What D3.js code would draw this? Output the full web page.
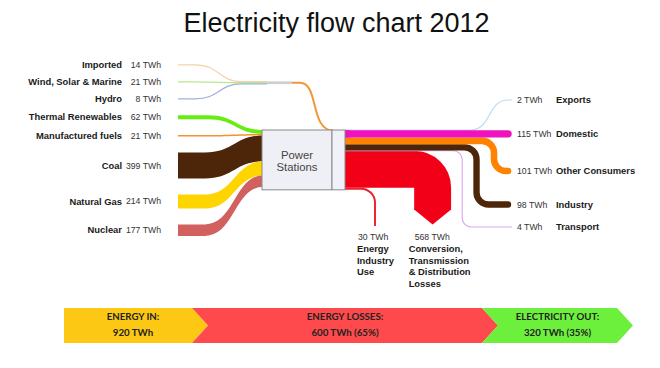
<!DOCTYPE html>
<html><head><meta charset="utf-8">
<script src="https://cdn.jsdelivr.net/npm/d3@7"></script>
<style>body{margin:0;background:#fff;} svg{display:block;}</style>
</head><body>
<svg id="c" width="660" height="368"></svg>
<script>
// ---------------- data ----------------
const title = "Electricity flow chart 2012";
const unit = "TWh";
const totalIn = 920;
const inNames  = ["Imported","Wind, Solar & Marine","Hydro","Thermal Renewables","Manufactured fuels","Coal","Natural Gas","Nuclear"];
const inValues = [14, 21, 8, 62, 21, 399, 214, 177];
const inBypass = [true, true, true, false, false, false, false, false];
const inColors = ["#f3d3a8","#b6ea8e","#a2ade6","#66ee11","#f5922e","#4d2609","#ffd500","#d2605e"];
const outNames  = ["Exports","Domestic","Other Consumers","Industry","Transport"];
const outValues = [2, 115, 101, 98, 4];
const outColors = ["#b9dcf0","#f012bc","#ff8200","#4d2609","#dcaaea"];
const lossNames  = [["Energy","Industry","Use"],["Conversion,","Transmission","& Distribution","Losses"]];
const lossValues = [30, 568];
const lossColors = ["#f0202a","#f20018"];
const boxLabel = ["Power","Stations"];
const summaryNames  = ["ENERGY IN:","ENERGY LOSSES:","ELECTRICITY OUT:"];
const summaryValues = ["920 TWh","600 TWh (65%)","320 TWh (35%)"];
const summaryColors = ["#fdc814","#fe4a4c","#6cf03c"];

// ---------------- layout ----------------
const svg = d3.select("#c");
const FONT = "'Liberation Sans', Arial, sans-serif";
const W = d3.scaleLinear().domain([0, totalIn]).range([0, 59.8]);
const xL0 = 178, xBend = 205, xBox0 = 262, xBox1 = 332, xBox2 = 345;
const boxTop = 130, boxBot = boxTop + W(totalIn);
const gapL = 16;
const outRowY = [100, 134, 171, 204.5, 227];
const xEnd = 508, labelValX = 517, labelNameX = 556;
const lossEndY = 210;

// title
svg.append("text").attr("x", 336.5).attr("y", 32).attr("text-anchor", "middle")
  .attr("font-family", FONT).attr("font-size", 27).attr("fill", "#111").text(title);

// ---- left stacking ----
let yc = 64.8 - W(inValues[0]) / 2;
const inRows = inValues.map(v => { const w = W(v); const r = { top: yc, w, c: yc + w / 2 }; yc += w + gapL; return r; });
let sb = boxTop;
inRows.forEach((r, i) => { if (!inBypass[i]) { r.rTop = sb; sb += r.w; } });

function band(x0, x1, x2, yt0, yt1, w) {
  const p = d3.path(); const xm = (x1 + x2) / 2;
  p.moveTo(x0, yt0); p.lineTo(x1, yt0);
  p.bezierCurveTo(xm, yt0, xm, yt1, x2, yt1);
  p.lineTo(x2, yt1 + w);
  p.bezierCurveTo(xm, yt1 + w, xm, yt0 + w, x1, yt0 + w);
  p.lineTo(x0, yt0 + w); p.closePath();
  return p.toString();
}

const gLeft = svg.append("g");
// bypass (direct electricity) thin lines
const byIdx = inValues.map((v, i) => i).filter(i => inBypass[i]);
const bySum = d3.sum(byIdx, i => inValues[i]);
const mergeC = inRows[1].c + 0.8;
const mergeW = W(bySum);
let mt = mergeC - byIdx.length * 1.1 / 2;
const xMerge0 = 242, xMerge1 = 267, xGray1 = 292;
byIdx.forEach(i => {
  const r = inRows[i]; const my = mt + 0.55; mt += 1.1;
  const p = d3.path(); p.moveTo(xL0, r.c); p.lineTo(195, r.c);
  p.bezierCurveTo(220, r.c, 218, my, xMerge0, my); p.lineTo(xMerge1, my);
  gLeft.append("path").attr("d", p.toString()).attr("fill", "none")
    .attr("stroke", inColors[i]).attr("stroke-width", Math.max(r.w, 1.3));
});
gLeft.append("line").attr("x1", xMerge1).attr("x2", xGray1).attr("y1", mergeC).attr("y2", mergeC)
  .attr("stroke", "#cfcfcf").attr("stroke-width", mergeW);
{
  const p = d3.path(); p.moveTo(xGray1, mergeC); p.lineTo(300, mergeC);
  p.bezierCurveTo(319, mergeC, 310, boxTop + 0.5, xBox1 + 1, boxTop + 0.5);
  gLeft.append("path").attr("d", p.toString()).attr("fill", "none")
    .attr("stroke", "#f39636").attr("stroke-width", 2);
}
// power station inputs
inRows.forEach((r, i) => {
  if (inBypass[i]) return;
  const w = Math.max(r.w, 1.5);
  const top = r.c - w / 2;
  gLeft.append("path").attr("d", band(xL0, i === 3 ? 208 : xBend, xBox0 + 2, top, r.rTop, w))
    .attr("fill", inColors[i]);
});

// left labels
inRows.forEach((r, i) => {
  svg.append("text").attr("x", 122).attr("y", r.c).attr("dy", "0.35em").attr("text-anchor", "end")
    .attr("font-family", FONT).attr("font-size", 9.4).attr("font-weight", "bold").attr("fill", "#1a1a1a")
    .text(inNames[i]);
  svg.append("text").attr("x", 161).attr("y", r.c).attr("dy", "0.35em").attr("text-anchor", "end")
    .attr("font-family", FONT).attr("font-size", 8.7).attr("fill", "#333")
    .text(inValues[i] + " " + unit);
});

// ---- right stacking ----
let sr = boxTop;
const outRows = outValues.map(v => { const w = W(v); const r = { top: sr, w, c: sr + w / 2 }; sr += w; return r; });
const lossRows = [];
[1, 0].forEach(i => { const w = W(lossValues[i]); lossRows[i] = { top: sr, w, c: sr + w / 2 }; sr += w; });

// turn x positions (nested)
const turnGap = 11;
const turnX = [];
turnX[2] = 494;
turnX[3] = turnX[2] - outRows[2].w / 2 - turnGap - outRows[3].w / 2;
turnX[4] = turnX[3] - outRows[3].w / 2 - turnGap - outRows[4].w / 2;
const convX = turnX[4] - outRows[4].w / 2 - turnGap - lossRows[1].w / 2;

const gRight = svg.append("g");
// exports (thin, branching up)
{
  const r = outRows[0]; const y = r.c;
  const p = d3.path(); p.moveTo(xBox2, y); p.lineTo(470, y);
  p.bezierCurveTo(492, y, 487, outRowY[0], xEnd, outRowY[0]); p.lineTo(512, outRowY[0]);
  gRight.append("path").attr("d", p.toString()).attr("fill", "none")
    .attr("stroke", outColors[0]).attr("stroke-width", 1.2);
}
// conversion losses (big arrow)
{
  const r = lossRows[1];
  const p = d3.path(); p.moveTo(xBox2, r.c);
  p.arcTo(convX, r.c, convX, lossEndY, r.w / 2); p.lineTo(convX, lossEndY);
  gRight.append("path").attr("d", p.toString()).attr("fill", "none")
    .attr("stroke", lossColors[1]).attr("stroke-width", r.w);
  gRight.append("path")
    .attr("d", `M${convX - r.w / 2},${lossEndY - 0.5}L${convX + r.w / 2},${lossEndY - 0.5}L${convX},${lossEndY + 14.5}Z`)
    .attr("fill", lossColors[1]);
}
// energy industry use
const euX = 375;
{
  const r = lossRows[0];
  const p = d3.path(); p.moveTo(xBox2, r.c);
  p.arcTo(euX, r.c, euX, lossEndY + 16, 14); p.lineTo(euX, lossEndY + 16);
  gRight.append("path").attr("d", p.toString()).attr("fill", "none")
    .attr("stroke", lossColors[0]).attr("stroke-width", Math.max(r.w, 1.8));
}
// turned outputs
[4, 3, 2].forEach(i => {
  const r = outRows[i]; const thin = r.w < 2;
  const rad = thin ? 9 : 12;
  const p = d3.path(); p.moveTo(xBox2, r.c);
  p.arcTo(turnX[i], r.c, turnX[i], outRowY[i], rad);
  p.arcTo(turnX[i], outRowY[i], xEnd, outRowY[i], rad);
  p.lineTo(thin ? 512 : xEnd, outRowY[i]);
  gRight.append("path").attr("d", p.toString()).attr("fill", "none")
    .attr("stroke", outColors[i]).attr("stroke-width", Math.max(r.w, 1.2))
    .attr("stroke-linecap", thin ? "butt" : "round");
});
// domestic (straight)
{
  const r = outRows[1];
  gRight.append("path").attr("d", `M${xBox2},${r.c}L${xEnd},${r.c}`).attr("fill", "none")
    .attr("stroke", outColors[1]).attr("stroke-width", r.w).attr("stroke-linecap", "round");
  gRight.append("rect").attr("x", xBox2 - 1).attr("y", r.top).attr("width", 6).attr("height", r.w).attr("fill", outColors[1]);
  outRowY[1] = r.c;
}
// right labels
outRows.forEach((r, i) => {
  svg.append("text").attr("x", labelValX).attr("y", outRowY[i]).attr("dy", "0.35em")
    .attr("font-family", FONT).attr("font-size", 8.7).attr("fill", "#333")
    .text(outValues[i] + " " + unit);
  svg.append("text").attr("x", labelNameX).attr("y", outRowY[i]).attr("dy", "0.35em")
    .attr("font-family", FONT).attr("font-size", 9.4).attr("font-weight", "bold").attr("fill", "#1a1a1a")
    .text(outNames[i]);
});
// loss labels
const lossLabelX = [[euX - 17, euX - 18], [convX - 18, convX - 24]];
lossValues.forEach((v, i) => {
  svg.append("text").attr("x", lossLabelX[i][0]).attr("y", 237).attr("dy", "0.35em")
    .attr("font-family", FONT).attr("font-size", 8.7).attr("fill", "#333").text(v + " " + unit);
  lossNames[i].forEach((t, j) => {
    svg.append("text").attr("x", lossLabelX[i][1]).attr("y", 249 + j * 11.5).attr("dy", "0.35em")
      .attr("font-family", FONT).attr("font-size", 9.4).attr("font-weight", "bold").attr("fill", "#1a1a1a").text(t);
  });
});

// boxes
svg.append("rect").attr("x", xBox0).attr("y", boxTop).attr("width", xBox1 - xBox0).attr("height", boxBot - boxTop)
  .attr("fill", "#efeff6").attr("stroke", "#8a8a8a").attr("stroke-width", 1);
svg.append("rect").attr("x", xBox1).attr("y", boxTop).attr("width", xBox2 - xBox1).attr("height", boxBot - boxTop)
  .attr("fill", "#f1f1f9").attr("stroke", "#8a8a8a").attr("stroke-width", 1);
boxLabel.forEach((t, j) => {
  svg.append("text").attr("x", (xBox0 + xBox1) / 2).attr("y", 155 + j * 12.5).attr("dy", "0.35em")
    .attr("text-anchor", "middle").attr("font-family", FONT).attr("font-size", 11.3).attr("fill", "#444").text(t);
});

// ---- summary bar ----
const barX = [64, 192, 482, 617];
const barTop = 308, barBot = 343, barMid = (barTop + barBot) / 2, tip = 16;
summaryNames.forEach((n, i) => {
  const x0 = barX[i], x1 = barX[i + 1];
  const notch = i === 0 ? 0 : tip;
  const d = `M${x0},${barTop}L${x1},${barTop}L${x1 + tip},${barMid}L${x1},${barBot}L${x0},${barBot}L${x0 + notch},${barMid}Z`;
  svg.append("path").attr("d", d).attr("fill", summaryColors[i]);
  const cx = (x0 + x1 + tip) / 2 + (i === 0 ? -3 : 0);
  svg.append("text").attr("x", cx).attr("y", 316.5).attr("dy", "0.35em").attr("text-anchor", "middle")
    .attr("font-family", "Lato, sans-serif").attr("font-weight", "bold").attr("font-size", 9.7).attr("fill", "#222").text(n);
  svg.append("text").attr("x", cx).attr("y", 333).attr("dy", "0.35em").attr("text-anchor", "middle")
    .attr("font-family", "Lato, sans-serif").attr("font-weight", "bold").attr("font-size", 9.7).attr("fill", "#222").text(summaryValues[i]);
});
</script>
</body></html>
